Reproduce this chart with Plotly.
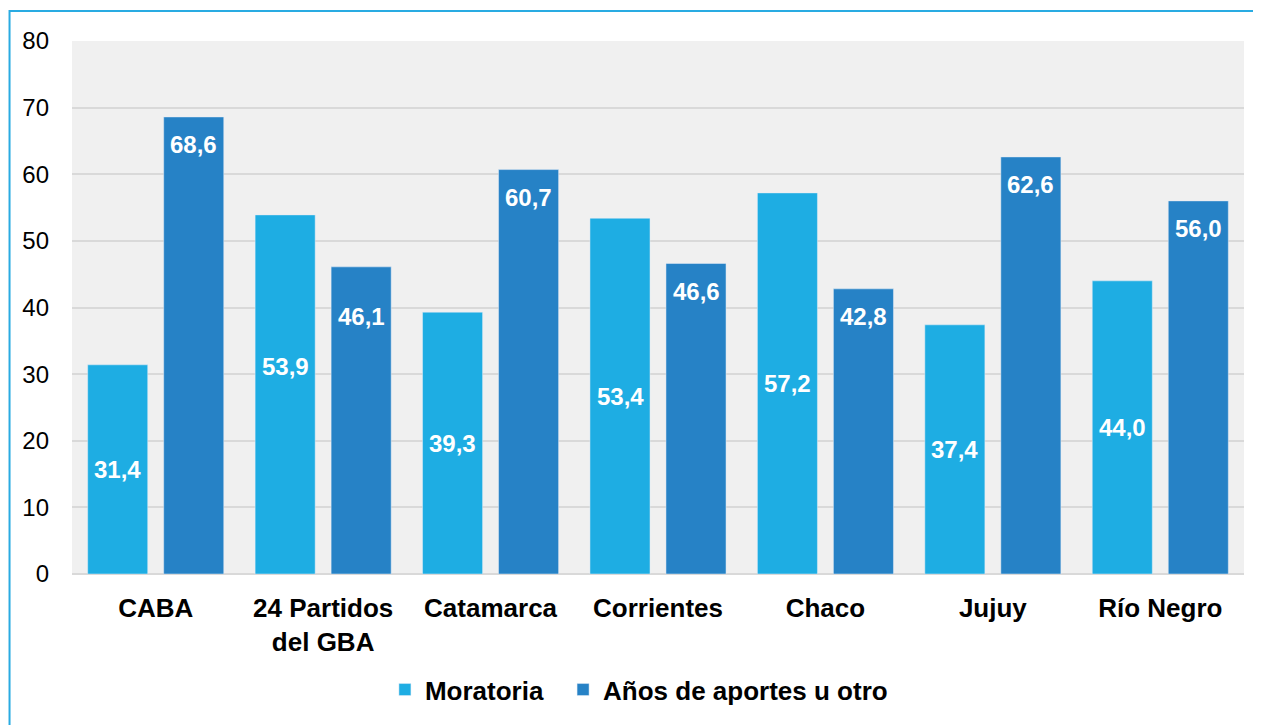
import plotly.graph_objects as go

provincias = ["CABA", "24 Partidos<br>del GBA", "Catamarca", "Corrientes", "Chaco", "Jujuy", "Río Negro"]
moratoria = [31.4, 53.9, 39.3, 53.4, 57.2, 37.4, 44.0]
aportes = [68.6, 46.1, 60.7, 46.6, 42.8, 62.6, 56.0]
y_ticks = [0, 10, 20, 30, 40, 50, 60, 70, 80]

# label nudges (px) as placed in the original
shift_mor = [0, 28, 0, 0, 0, 0, 0]
shift_apo = [-28, -50, -28, -28, -28, -28, -28]

C_MOR = "#1EADE3"
C_APO = "#2682C6"
FONT = "Liberation Sans, Arial, sans-serif"


def fmt(v):
    return f"{v:.1f}".replace(".", ",")


def main():
    fig = go.Figure()
    fig.add_trace(go.Bar(x=provincias, y=moratoria, name="Moratoria", marker_color=C_MOR,
                         legend="legend"))
    fig.add_trace(go.Bar(x=provincias, y=aportes, name="Años de aportes u otro", marker_color=C_APO,
                         legend="legend2"))

    # data labels
    for i, cat in enumerate(provincias):
        fig.add_annotation(x=cat, y=moratoria[i] / 2, text=fmt(moratoria[i]), showarrow=False,
                           xshift=-38, yshift=shift_mor[i],
                           font=dict(family=FONT, size=24, color="white", weight="bold"))
        fig.add_annotation(x=cat, y=aportes[i], text=fmt(aportes[i]), showarrow=False,
                           xshift=38, yshift=shift_apo[i],
                           font=dict(family=FONT, size=24, color="white", weight="bold"))

    # outer frame of the original picture
    fig.add_shape(type="rect", xref="paper", yref="paper",
                  x0=-0.0533, x1=1.03, y0=-0.4, y1=1.0565,
                  line=dict(color="#29ABE2", width=2), fillcolor="rgba(0,0,0,0)", layer="below")

    leg = dict(orientation="h", y=-0.217, yanchor="middle", xanchor="left",
               font=dict(size=26, weight="bold"), itemwidth=30, bgcolor="rgba(0,0,0,0)")
    fig.update_layout(
        width=1253, height=717,
        margin=dict(l=64, r=17, t=33, b=149),
        paper_bgcolor="white", plot_bgcolor="#F0F0F0",
        barmode="group", bargap=0.092, bargroupgap=0.21,
        font=dict(family=FONT, color="black"),
        showlegend=True,
        legend=dict(leg, x=0.267),
        legend2=dict(leg, x=0.419),
    )
    fig.update_xaxes(showgrid=False, showline=False, ticks="",
                     tickfont=dict(size=26, weight="bold"), ticklabelstandoff=16)
    fig.update_yaxes(range=[0, 80], tickvals=y_ticks, showgrid=True, gridcolor="#D9D9D9", gridwidth=2,
                     zeroline=True, zerolinecolor="#D9D9D9", zerolinewidth=2,
                     ticks="", tickfont=dict(size=24), ticklabelstandoff=22)

    fig.write_html("out.html")


if __name__ == "__main__":
    main()
